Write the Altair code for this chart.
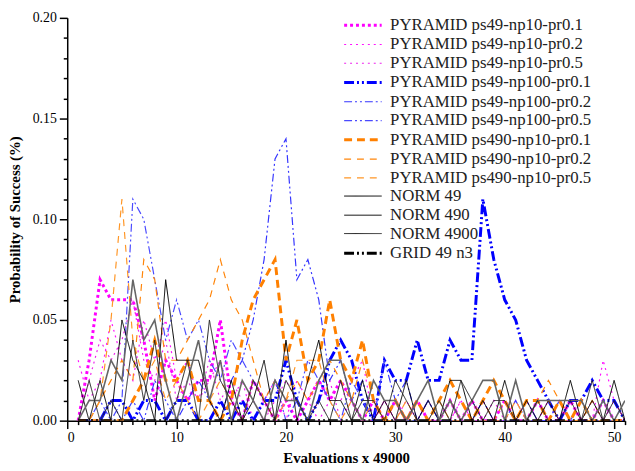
import altair as alt
import pandas as pd

evals = list(range(1, 52))

series_names = [
    "PYRAMID ps49-np10-pr0.1",
    "PYRAMID ps49-np10-pr0.2",
    "PYRAMID ps49-np10-pr0.5",
    "PYRAMID ps49-np100-pr0.1",
    "PYRAMID ps49-np100-pr0.2",
    "PYRAMID ps49-np100-pr0.5",
    "PYRAMID ps490-np10-pr0.1",
    "PYRAMID ps490-np10-pr0.2",
    "PYRAMID ps490-np10-pr0.5",
    "NORM 49",
    "NORM 490",
    "NORM 4900",
    "GRID 49 n3",
]

pyr_49_10_01 = [0.00, 0.03, 0.07, 0.06, 0.06, 0.06, 0.04, 0.01, 0.03, 0.02,
                0.01, 0.02, 0.02, 0.05, 0.01, 0.00, 0.02, 0.01, 0.00, 0.01,
                0.00, 0.01, 0.02, 0.01, 0.02, 0.01, 0.00, 0.01, 0.00, 0.01,
                0.00, 0.01, 0.00, 0.00, 0.01, 0.00, 0.01, 0.00, 0.00, 0.01,
                0.00, 0.00, 0.01, 0.00, 0.00, 0.01, 0.00, 0.00, 0.01, 0.00, 0.00]
pyr_49_10_02 = [0.03, 0.01, 0.02, 0.05, 0.03, 0.02, 0.05, 0.03, 0.05, 0.02,
                0.03, 0.01, 0.02, 0.03, 0.01, 0.02, 0.00, 0.01, 0.02, 0.00,
                0.02, 0.01, 0.00, 0.01, 0.01, 0.02, 0.03, 0.00, 0.01, 0.00,
                0.01, 0.00, 0.01, 0.00, 0.00, 0.01, 0.00, 0.01, 0.00, 0.00,
                0.01, 0.00, 0.00, 0.01, 0.00, 0.00, 0.00, 0.00, 0.03, 0.01, 0.00]
pyr_49_10_05 = [0.00, 0.02, 0.04, 0.03, 0.04, 0.06, 0.03, 0.02, 0.04, 0.01,
                0.02, 0.01, 0.03, 0.01, 0.02, 0.01, 0.01, 0.00, 0.01, 0.02,
                0.01, 0.00, 0.01, 0.02, 0.00, 0.01, 0.00, 0.00, 0.01, 0.00,
                0.00, 0.01, 0.00, 0.00, 0.00, 0.01, 0.00, 0.00, 0.01, 0.00,
                0.00, 0.01, 0.00, 0.00, 0.01, 0.00, 0.00, 0.01, 0.00, 0.01, 0.00]
pyr_49_100_01 = [0.00, 0.00, 0.00, 0.01, 0.01, 0.00, 0.01, 0.01, 0.00, 0.01,
                 0.01, 0.00, 0.00, 0.01, 0.00, 0.01, 0.00, 0.01, 0.01, 0.03,
                 0.01, 0.00, 0.01, 0.03, 0.04, 0.03, 0.01, 0.00, 0.03, 0.02,
                 0.02, 0.04, 0.02, 0.02, 0.04, 0.03, 0.03, 0.11, 0.08, 0.06,
                 0.05, 0.03, 0.02, 0.01, 0.00, 0.01, 0.01, 0.02, 0.01, 0.01, 0.00]
pyr_49_100_02 = [0.00, 0.00, 0.00, 0.01, 0.00, 0.01, 0.00, 0.02, 0.01, 0.00,
                 0.01, 0.02, 0.01, 0.00, 0.02, 0.03, 0.05, 0.08, 0.13, 0.14,
                 0.07, 0.08, 0.06, 0.02, 0.03, 0.01, 0.02, 0.00, 0.03, 0.01,
                 0.02, 0.00, 0.01, 0.00, 0.01, 0.00, 0.00, 0.01, 0.00, 0.00,
                 0.01, 0.00, 0.00, 0.00, 0.01, 0.00, 0.00, 0.00, 0.01, 0.00, 0.00]
pyr_49_100_05 = [0.00, 0.00, 0.01, 0.00, 0.01, 0.11, 0.10, 0.07, 0.04, 0.06,
                 0.04, 0.05, 0.03, 0.02, 0.04, 0.03, 0.02, 0.01, 0.02, 0.00,
                 0.01, 0.03, 0.02, 0.01, 0.00, 0.02, 0.01, 0.00, 0.00, 0.01,
                 0.00, 0.00, 0.01, 0.00, 0.00, 0.00, 0.01, 0.00, 0.00, 0.00,
                 0.00, 0.01, 0.00, 0.00, 0.00, 0.00, 0.01, 0.00, 0.00, 0.00, 0.00]
pyr_490_10_01 = [0.00, 0.00, 0.00, 0.00, 0.00, 0.01, 0.02, 0.04, 0.02, 0.02,
                 0.03, 0.01, 0.01, 0.00, 0.01, 0.04, 0.06, 0.07, 0.08, 0.03,
                 0.05, 0.02, 0.03, 0.06, 0.03, 0.02, 0.04, 0.01, 0.00, 0.01,
                 0.00, 0.01, 0.00, 0.01, 0.02, 0.01, 0.00, 0.01, 0.02, 0.01,
                 0.00, 0.01, 0.01, 0.00, 0.01, 0.00, 0.01, 0.00, 0.00, 0.00, 0.00]
pyr_490_10_02 = [0.00, 0.00, 0.01, 0.02, 0.03, 0.02, 0.08, 0.07, 0.03, 0.03,
                 0.04, 0.05, 0.06, 0.08, 0.06, 0.05, 0.03, 0.01, 0.02, 0.01,
                 0.02, 0.01, 0.02, 0.03, 0.02, 0.01, 0.03, 0.01, 0.00, 0.01,
                 0.00, 0.01, 0.00, 0.00, 0.01, 0.00, 0.00, 0.01, 0.00, 0.01,
                 0.00, 0.01, 0.01, 0.02, 0.01, 0.00, 0.00, 0.01, 0.00, 0.00, 0.00]
pyr_490_10_05 = [0.00, 0.00, 0.01, 0.05, 0.11, 0.04, 0.02, 0.03, 0.01, 0.02,
                 0.01, 0.00, 0.01, 0.02, 0.01, 0.00, 0.02, 0.01, 0.00, 0.01,
                 0.03, 0.03, 0.03, 0.01, 0.00, 0.01, 0.00, 0.01, 0.00, 0.00,
                 0.01, 0.00, 0.00, 0.01, 0.00, 0.00, 0.01, 0.00, 0.00, 0.00,
                 0.01, 0.00, 0.00, 0.01, 0.00, 0.00, 0.00, 0.00, 0.00, 0.00, 0.00]
norm_49 = [0.02, 0.00, 0.02, 0.00, 0.05, 0.03, 0.02, 0.00, 0.07, 0.03,
           0.03, 0.03, 0.01, 0.00, 0.02, 0.00, 0.01, 0.03, 0.00, 0.04,
           0.00, 0.02, 0.04, 0.01, 0.01, 0.00, 0.02, 0.00, 0.01, 0.00,
           0.02, 0.00, 0.01, 0.00, 0.02, 0.02, 0.00, 0.01, 0.00, 0.02,
           0.00, 0.01, 0.00, 0.01, 0.00, 0.02, 0.00, 0.01, 0.00, 0.02, 0.00]
norm_490 = [0.00, 0.01, 0.01, 0.03, 0.02, 0.07, 0.04, 0.05, 0.02, 0.00,
            0.02, 0.04, 0.01, 0.03, 0.00, 0.02, 0.01, 0.00, 0.02, 0.01,
            0.01, 0.00, 0.02, 0.03, 0.03, 0.01, 0.00, 0.02, 0.01, 0.01,
            0.00, 0.01, 0.02, 0.00, 0.01, 0.00, 0.01, 0.02, 0.02, 0.00,
            0.02, 0.00, 0.01, 0.01, 0.01, 0.01, 0.01, 0.00, 0.01, 0.00, 0.01]
norm_4900 = [0.00, 0.02, 0.00, 0.01, 0.00, 0.04, 0.01, 0.04, 0.00, 0.01,
             0.03, 0.00, 0.05, 0.02, 0.01, 0.00, 0.02, 0.01, 0.00, 0.02,
             0.01, 0.00, 0.01, 0.00, 0.02, 0.00, 0.01, 0.01, 0.00, 0.02,
             0.01, 0.00, 0.00, 0.01, 0.00, 0.02, 0.01, 0.00, 0.01, 0.01,
             0.00, 0.00, 0.01, 0.00, 0.00, 0.01, 0.00, 0.02, 0.00, 0.01, 0.00]
grid_49_n3 = [0.00] * 51

all_series = [pyr_49_10_01, pyr_49_10_02, pyr_49_10_05,
              pyr_49_100_01, pyr_49_100_02, pyr_49_100_05,
              pyr_490_10_01, pyr_490_10_02, pyr_490_10_05,
              norm_49, norm_490, norm_4900, grid_49_n3]

colors = ["#ff00ff", "#ff11ff", "#ee22ee",
          "#0000ff", "#3535ff", "#4a4aff",
          "#ff8000", "#ff850a", "#ff9626",
          "#000000", "#666666", "#222222", "#000000"]
dashes = [[3, 3], [2, 4], [2, 4],
          [10, 3, 2, 3, 2, 3], [8, 3, 2, 3, 2, 3], [8, 3, 2, 3, 2, 3],
          [8, 5], [7, 6], [7, 6],
          [1, 0], [1, 0], [1, 0], [10, 3, 2, 3, 2, 3]]
widths = [3, 1.2, 1.2, 3, 1.2, 1.2, 3, 1.2, 1.2, 1, 1.6, 1, 3]

x_ticks = list(range(0, 52))
y_ticks = [0.00, 0.01, 0.02, 0.03, 0.04, 0.05, 0.06, 0.07, 0.08, 0.09, 0.10,
           0.11, 0.12, 0.13, 0.14, 0.15, 0.16, 0.17, 0.18, 0.19, 0.20]

rows = []
for name, vals in zip(series_names, all_series):
    for x, v in zip(evals, vals):
        rows.append({"series": name, "evals": x, "prob": v})
df = pd.DataFrame(rows)

legend = alt.Legend(
    title=None, orient="none", legendX=288, legendY=-4,
    symbolType="M-1.9,0H1.9", symbolSize=400, labelFontSize=17,
    labelFont="Liberation Serif", labelColor="#222222", labelLimit=400,
    rowPadding=-2, padding=0, symbolOffset=0, labelOffset=16,
)

chart = alt.Chart(df).mark_line(clip=True).encode(
    x=alt.X("evals:Q",
            scale=alt.Scale(domain=[0, 51], nice=False, zero=False),
            axis=alt.Axis(title="Evaluations x 49000", values=x_ticks,
                          labelExpr="datum.value % 10 == 0 ? datum.label : ''",
                          tickSize={"condition": {"test": "datum.value % 10 == 0", "value": 8}, "value": 4},
                          labelOverlap=False, grid=False, labelPadding=2,
                          titlePadding=6)),
    y=alt.Y("prob:Q",
            scale=alt.Scale(domain=[0, 0.2], nice=False),
            axis=alt.Axis(title="Probability of Success (%)", values=y_ticks,
                          labelExpr="round(datum.value*100) % 5 == 0 ? format(datum.value, '.2f') : ''",
                          tickSize={"condition": {"test": "round(datum.value*100) % 5 == 0", "value": 8}, "value": 4},
                          labelOverlap=False, grid=False, labelPadding=3,
                          titlePadding=10)),
    color=alt.Color("series:N", scale=alt.Scale(domain=series_names, range=colors), legend=legend),
    strokeDash=alt.StrokeDash("series:N", scale=alt.Scale(domain=series_names, range=dashes), legend=legend),
    strokeWidth=alt.StrokeWidth("series:N", scale=alt.Scale(type="ordinal", domain=series_names, range=widths), legend=legend),
).properties(
    width=565, height=408,
    autosize=alt.AutoSizeParams(type="none"),
    padding={"left": 60, "top": 7, "right": 2, "bottom": 48},
).configure_view(stroke=None).configure_axis(
    labelFont="Liberation Serif", titleFont="Liberation Serif",
    labelFontSize=14, titleFontSize=15, titleFontWeight="bold",
    labelColor="#000000", titleColor="#000000",
    domainColor="#000000", tickColor="#000000", domainWidth=1.5, tickWidth=1.5,
)

chart.save("out.html", embed_options={"renderer": "svg", "actions": False})
